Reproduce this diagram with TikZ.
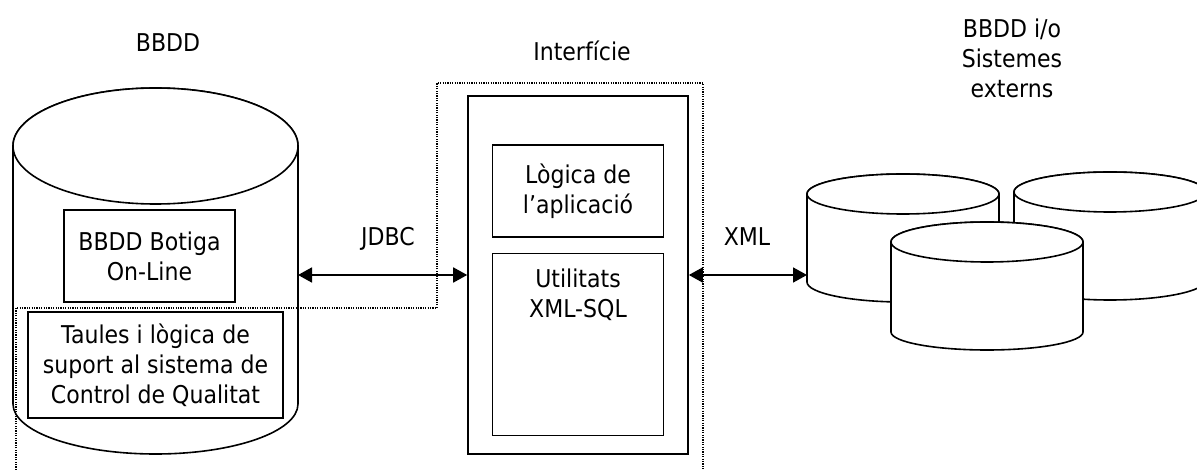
\documentclass[tikz,border=0pt]{standalone}
\usepackage{fontspec}
\setmainfont{DejaVu Sans}[FakeStretch=0.9]
\usetikzlibrary{arrows.meta}
\usetikzlibrary{positioning}
\tikzset {
  % box with centred text
  box/.style = {
    draw = black,
    line width = 1.6pt,
    inner sep = 0,
    align = center
  },
  % invisible body of a database, the outline is drawn by \dbcylinder
  cylbody/.style = {
    inner sep = 0,
    outer sep = 0
  },
  cyl/.style = {
    draw = black,
    fill = white,
    line width = 1.6pt
  },
  % double arrow between the parts
  link/.style = {
    draw = black,
    line width = 1.8pt,
    <->,
    >={Triangle[length=14pt,width=15pt]}
  },
  % dotted outline round the interface
  zone/.style = {
    draw = black,
    line width = 1.2pt,
    dash pattern = on 1.2pt off 1.2pt
  },
  lbl/.style = {
    align = center,
    inner sep = 0
  }
}
% #1 body node, #2 x radius, #3 top y radius, #4 bottom y radius
\newcommand{\dbcylinder}[4]{%
  \path[cyl] (#1.north west) -- (#1.south west)
    arc[start angle=180, end angle=360, x radius=#2, y radius=#4]
    -- (#1.north east)
    arc[start angle=0, end angle=180, x radius=#2, y radius=#3] -- cycle;
  \path[cyl] (#1.north) ellipse[x radius=#2, y radius=#3];
}

\begin{document}
\begin{tikzpicture}[x=1pt, y=-1pt, font=\fontsize{24.5}{30}\selectfont]
    \useasboundingbox (0,0) rectangle (1197,470);

    % shop database
    \node[cylbody, minimum width=285pt, minimum height=258pt] (bbdd) at (155.5,275) {};
    \dbcylinder{bbdd}{142.5pt}{58pt}{50pt}
    \node[box, minimum width=171pt, minimum height=92pt] (botiga) at (149.5,256) {BBDD Botiga\\On-Line};
    \node[box, minimum width=255pt, minimum height=106pt] (taules) at (155.5,365)
      {Taules i lògica de\\suport al sistema de\\Control de Qualitat};

    % interface
    \node[box, minimum width=220pt, minimum height=358pt] (iface) at (578,275) {};
    \node[box, minimum width=171pt, minimum height=92pt] (logica) [below=49pt of iface.north] {Lògica de\\l’aplicació};
    \node[box, minimum width=171pt, minimum height=182pt] (utils) [below=15pt of logica] {};
    \node[lbl] (utilstext) [below=16pt of utils.north] {Utilitats\\XML-SQL};

    % external databases
    \node[cylbody, minimum width=192pt, minimum height=88pt] (extA) at (903,238) {};
    \node[cylbody, minimum width=192pt, minimum height=88pt] (extB) at (1110,236) {};
    \node[cylbody, minimum width=192pt, minimum height=90pt] (extC) at (987,287) {};
    \dbcylinder{extA}{96pt}{20pt}{20pt}
    \dbcylinder{extB}{96pt}{20pt}{20pt}
    \dbcylinder{extC}{96pt}{20pt}{18pt}

    \draw[zone] (16,470) -- (16,308) -- (437,308) -- (437,83) -- (703,83) -- (703,470);

    \node[lbl] (bbddlbl) at (168,43) {BBDD};
    \node[lbl] (ifacelbl) at (582,51) {Interfície};
    \node[lbl] (extlbl) at (1012,58) {BBDD i/o\\Sistemes\\externs};
    \node[lbl] (jdbc) at (388,239) {JDBC};
    \node[lbl] (xml) at (747,237) {XML};

    \draw[link] (bbdd.east) -- (iface.west);
    \draw[link] (iface.east) -- (iface.east -| extA.west);
\end{tikzpicture}
\end{document}
